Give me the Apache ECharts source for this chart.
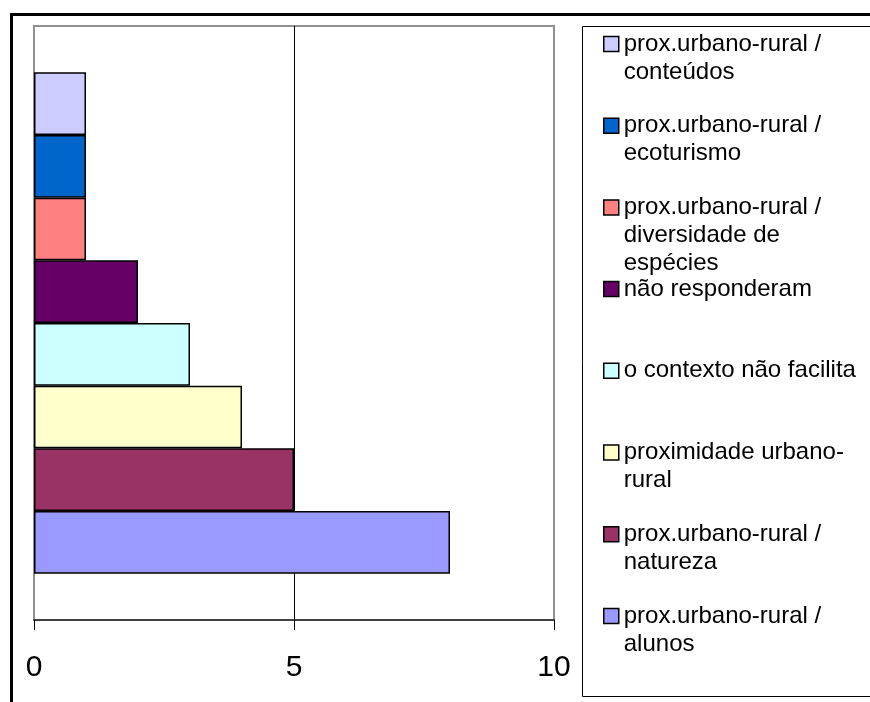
<!DOCTYPE html>
<html>
<head>
<meta charset="utf-8">
<script src="https://cdn.jsdelivr.net/npm/echarts@6/dist/echarts.min.js"></script>
<style>
  html, body { margin: 0; padding: 0; background: #fff; overflow: hidden; }
  #chart { width: 870px; height: 702px; }
</style>
</head>
<body>
<div id="chart"></div>
<script>
// Series, listed from the top bar down (same order as the legend)
var seriesNames = [
  'prox.urbano-rural / conteúdos',
  'prox.urbano-rural / ecoturismo',
  'prox.urbano-rural / diversidade de espécies',
  'não responderam',
  'o contexto não facilita',
  'proximidade urbano-rural',
  'prox.urbano-rural / natureza',
  'prox.urbano-rural / alunos'
];
var seriesValues = [1, 1, 1, 2, 3, 4, 5, 8];
var seriesColors = ['#CCCCFF', '#0066CC', '#FF8080', '#660066', '#CCFFFF', '#FFFFCC', '#993366', '#9999FF'];
// Wrapped legend text, same order as seriesNames
var legendLines = [
  ['prox.urbano-rural /', 'conteúdos'],
  ['prox.urbano-rural /', 'ecoturismo'],
  ['prox.urbano-rural /', 'diversidade de', 'espécies'],
  ['não responderam'],
  ['o contexto não facilita'],
  ['proximidade urbano-', 'rural'],
  ['prox.urbano-rural /', 'natureza'],
  ['prox.urbano-rural /', 'alunos']
];
var xTicks = [0, 5, 10];

var FONT = '"Liberation Sans", Arial, sans-serif';
var LINE_H = 28;
var chart = echarts.init(document.getElementById('chart'), null, { renderer: 'canvas' });

var series = seriesNames.map(function (name, i) {
  return {
    name: name,
    type: 'bar',
    data: [seriesValues[i]],
    barGap: '0%',
    barCategoryGap: '15.6%',
    itemStyle: { color: seriesColors[i], borderColor: '#000', borderWidth: 1.5 },
    emphasis: { disabled: true },
    animation: false
  };
});

// One legend per entry, evenly spaced; blank lines ahead of the text keep the
// icon level with the first text line
var legends = [];
for (var k = 0; k < seriesNames.length; k++) {
  var n = legendLines[k].length;
  var blockH = LINE_H * (2 * n - 1);
  var centerY = 44 + k * 81.7;
  var pad = new Array(n).join('\n');
  legends.push({
    data: [seriesNames[k]],
    orient: 'vertical',
    left: 603,
    top: centerY - blockH / 2,
    padding: 0,
    itemWidth: 15,
    itemHeight: 15,
    icon: 'rect',
    selectedMode: false,
    itemStyle: { borderColor: '#000', borderWidth: 1.5 },
    formatter: (function (text) { return function () { return text; }; })(pad + legendLines[k].join('\n')),
    textStyle: {
      fontFamily: FONT,
      fontSize: 24,
      color: '#000',
      lineHeight: LINE_H
    }
  });
}

chart.setOption({
  backgroundColor: '#fff',
  animation: false,
  grid: {
    left: 34, top: 26, right: 316, bottom: 82,
    show: true, borderColor: '#909090', borderWidth: 2, backgroundColor: '#fff'
  },
  xAxis: {
    type: 'value',
    min: xTicks[0],
    max: xTicks[xTicks.length - 1],
    interval: xTicks[1] - xTicks[0],
    axisLine: { show: true, lineStyle: { color: '#404040', width: 2 } },
    axisTick: { show: true, length: 10, lineStyle: { color: '#000', width: 1 } },
    axisLabel: { fontFamily: FONT, fontSize: 30, color: '#000', margin: 33 },
    splitLine: { show: true, lineStyle: { color: ['#909090', '#000000', '#909090'], width: 1 } }
  },
  yAxis: {
    type: 'category',
    data: [''],
    axisLine: { show: false },
    axisTick: { show: false },
    axisLabel: { show: false },
    splitLine: { show: false }
  },
  legend: legends,
  series: series,
  graphic: [
    // outer chart frame (left and top edges lie inside the page)
    { type: 'polyline', silent: true, z: 100,
      shape: { points: [[11.5, 760], [11.5, 14.5], [900, 14.5]] },
      style: { fill: null, stroke: '#000', lineWidth: 3 } },
    // legend box, open towards the right page edge
    { type: 'polyline', silent: true, z: 100,
      shape: { points: [[900, 26.5], [582.5, 26.5], [582.5, 696.5], [900, 696.5]] },
      style: { fill: null, stroke: '#000', lineWidth: 1 } }
  ]
});
</script>
</body>
</html>
